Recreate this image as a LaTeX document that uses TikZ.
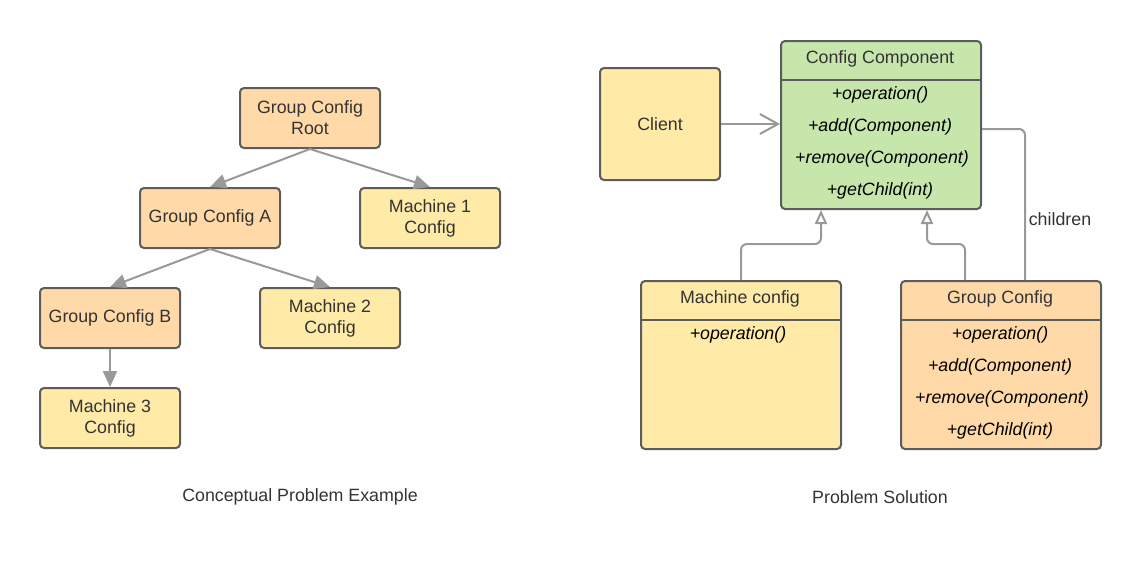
\documentclass[tikz,border=0pt]{standalone}
\usepackage{fontspec}
\setmainfont{Liberation Sans}
\usetikzlibrary{arrows.meta,calc}
\definecolor{peach}{HTML}{FFDAA8}
\definecolor{lyellow}{HTML}{FFEAA8}
\definecolor{lgreen}{HTML}{C6E6AC}
\definecolor{bord}{HTML}{5C5C5C}
\definecolor{conn}{HTML}{999999}
\definecolor{txt}{HTML}{333333}
\begin{document}
\begin{tikzpicture}[x=1pt,y=-1pt,
  fnt/.style={font=\fontsize{17.8}{21}\selectfont},
  box/.style={draw=bord, line width=2pt, rounded corners=4pt, minimum width=140pt,
    minimum height=60pt, align=center, text=txt, fnt, inner sep=0pt},
  cls/.style={draw=bord, line width=2pt, rounded corners=4pt, minimum width=200pt,
    minimum height=168pt, anchor=north west, inner sep=0pt},
  divline/.style={draw=bord, line width=2pt},
  ttl/.style={fnt, text=txt, inner sep=0pt},
  meth/.style={font=\fontsize{17.8}{21}\selectfont\itshape, text=black, inner sep=0pt},
  tree/.style={draw=conn, line width=2pt, -{Triangle[length=16pt,width=14pt]}},
  assoc/.style={draw=conn, line width=2pt, -{Straight Barb[length=18pt,width=20pt]}},
  inh/.style={draw=conn, line width=2pt, rounded corners=6pt, -{Triangle[open,length=14pt,width=12pt,fill=white]}},
  plain/.style={draw=conn, line width=2pt, rounded corners=6pt},
  lbl/.style={fnt, text=txt, inner sep=0pt}
]
\useasboundingbox (0,0) rectangle (1140,568);

% ---- left: conceptual tree
\node[box, fill=peach]   (root) at (310,118) {Group Config\\Root};
\node[box, fill=peach]   (ga)   at (210,218) {Group Config A};
\node[box, fill=lyellow] (m1)   at (430,218) {Machine 1\\Config};
\node[box, fill=peach]   (gb)   at (110,318) {Group Config B};
\node[box, fill=lyellow] (m2)   at (330,318) {Machine 2\\Config};
\node[box, fill=lyellow] (m3)   at (110,418) {Machine 3\\Config};

\draw[tree] (root.south) -- (ga.north);
\draw[tree] (root.south) -- (m1.north);
\draw[tree] (ga.south) -- (gb.north);
\draw[tree] (ga.south) -- (m2.north);
\draw[tree] (gb.south) -- (m3.north);

\node[lbl] (cap1) at (300,497) {Conceptual Problem Example};

% ---- right: solution
\node[box, fill=lyellow, minimum width=120pt, minimum height=112pt] (client) at (660,124) {Client};

% Config Component
\node[cls, fill=lgreen] (cc) at (780,40) {};
\draw[divline] (780,80) -- (980,80);
\node[ttl] (cch) at (880,59) {Config Component};
\node[meth] (cc1) at (880,95) {+operation()};
\node[meth] (cc2) at (880,127) {+add(Component)};
\node[meth] (cc3) at (882,159) {+remove(Component)};
\node[meth] (cc4) at (880,191) {+getChild(int)};

% Machine config
\node[cls, fill=lyellow] (mc) at (640,280) {};
\draw[divline] (640,320) -- (840,320);
\node[ttl] (mch) at (740,299) {Machine config};
\node[meth] (mc1) at (738,335) {+operation()};

% Group Config
\node[cls, fill=peach] (gc) at (900,280) {};
\draw[divline] (900,320) -- (1100,320);
\node[ttl] (gch) at (1000,299) {Group Config};
\node[meth] (gc1) at (1000,335) {+operation()};
\node[meth] (gc2) at (1000,367) {+add(Component)};
\node[meth] (gc3) at (1002,399) {+remove(Component)};
\node[meth] (gc4) at (1000,431) {+getChild(int)};

% connectors
\draw[assoc] (client.east) -- (client.east -| cc.west);
\draw[inh] (mc.north) -- ++(0,-36) -| ($(cc.south)+(-60,0)$);
\draw[inh] ($(gc.north)+(-36,0)$) -- ++(0,-36) -| ($(cc.south)+(46,0)$);
\draw[plain] ($(cc.east)+(0,4)$) -| ($(gc.north)+(24,0)$);
\node[lbl] (chl) at (1060,219) {children};

\node[lbl] (cap2) at (880,497) {Problem Solution};
\end{tikzpicture}
\end{document}
